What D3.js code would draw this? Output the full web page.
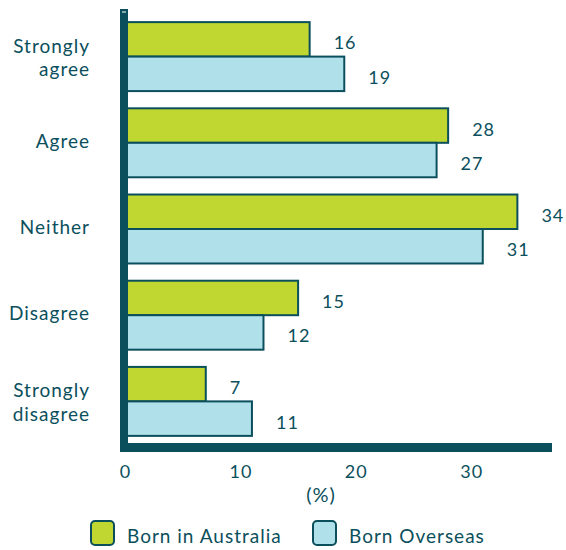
<!DOCTYPE html>
<html>
<head>
<meta charset="utf-8">
<script src="https://cdn.jsdelivr.net/npm/d3@7"></script>
<style>
  body { margin: 0; background: #fff; }
  text { font-family: "Lato", "Open Sans", sans-serif; fill: #0b4f5c; letter-spacing: 1px; }
</style>
</head>
<body>
<div class="container"></div>
<script>
// ----- DATA -----
const categories = ["Strongly agree", "Agree", "Neither", "Disagree", "Strongly disagree"];
const catLines = [["Strongly", "agree"], ["Agree"], ["Neither"], ["Disagree"], ["Strongly", "disagree"]];
const seriesNames = ["Born in Australia", "Born Overseas"];
const bornAustralia = [16, 28, 34, 15, 7];
const bornOverseas = [19, 27, 31, 12, 11];
const xTicks = [0, 10, 20, 30];

const w = 566, h = 550;
const colors = ["#bfd730", "#b0e1eb"];
const dark = "#0b4f5c";

const svg = d3.select(".container").append("svg")
  .attr("width", w).attr("height", h);

// ----- SCALES -----
const xScale = d3.scaleLinear().domain([0, 37]).range([125, 552]);
const yScale = d3.scaleBand().domain(categories).range([13.5, 444.5])
  .paddingInner(0.2).paddingOuter(0.1);
const ySub = d3.scaleBand().domain(seriesNames).range([0, yScale.bandwidth()]);

const rows = categories.map((c, i) => ({ cat: c, lines: catLines[i], vals: [bornAustralia[i], bornOverseas[i]] }));

// ----- BARS -----
const groups = svg.selectAll("g.cat").data(rows).enter().append("g")
  .attr("class", "cat")
  .attr("transform", d => "translate(0," + yScale(d.cat) + ")");

groups.selectAll("rect").data(d => d.vals.map((v, j) => ({ v: v, s: seriesNames[j], j: j })))
  .enter().append("rect")
  .attr("x", xScale(0))
  .attr("y", d => ySub(d.s))
  .attr("width", d => xScale(d.v) - xScale(0))
  .attr("height", ySub.bandwidth())
  .attr("fill", d => colors[d.j])
  .attr("stroke", dark)
  .attr("stroke-width", 2);

groups.selectAll("text.val").data(d => d.vals.map((v, j) => ({ v: v, s: seriesNames[j] })))
  .enter().append("text")
  .attr("class", "val")
  .attr("x", d => xScale(d.v) + 24)
  .attr("y", d => ySub(d.s) + ySub.bandwidth() / 2 + 10)
  .style("font-size", "18px")
  .text(d => d.v);

// ----- CATEGORY LABELS -----
svg.selectAll("text.cat").data(rows).enter().append("text")
  .attr("class", "cat")
  .attr("text-anchor", "end")
  .attr("x", 90)
  .attr("y", d => yScale(d.cat) + yScale.bandwidth() / 2 + (d.lines.length > 1 ? -4 : 5))
  .style("font-size", "19px")
  .selectAll("tspan").data(d => d.lines).enter().append("tspan")
  .attr("x", 90)
  .attr("dy", (d, i) => i === 0 ? 0 : 23.5)
  .text(d => d);

// ----- AXES -----
const xAxis = d3.axisBottom(xScale).tickValues(xTicks).tickSize(0).tickPadding(18);
const gx = svg.append("g").attr("transform", "translate(0,447)").call(xAxis);
gx.select(".domain").remove();
gx.selectAll("text").style("font-size", "18px").attr("fill", dark)
  .style("font-family", "Lato, 'Open Sans', sans-serif");

svg.append("line").attr("x1", 120).attr("x2", 552).attr("y1", 447.5).attr("y2", 447.5)
  .attr("stroke", dark).attr("stroke-width", 9);
svg.append("line").attr("x1", 124).attr("x2", 124).attr("y1", 9).attr("y2", 452)
  .attr("stroke", dark).attr("stroke-width", 8);
svg.append("line").attr("x1", 122).attr("x2", 126).attr("y1", 12).attr("y2", 12)
  .attr("stroke", "#fff").attr("stroke-width", 1);

svg.append("text").attr("x", 321).attr("y", 502).attr("text-anchor", "middle")
  .style("font-size", "20px").text("(%)");

// ----- LEGEND -----
const legendX = [90, 312];
const legend = svg.append("g").attr("id", "legend");
seriesNames.forEach((s, i) => {
  legend.append("rect").attr("x", legendX[i] + 1).attr("y", 521).attr("width", 23).attr("height", 24)
    .attr("rx", 4).attr("fill", colors[i]).attr("stroke", dark).attr("stroke-width", 2);
  legend.append("text").attr("x", legendX[i] + 37).attr("y", 543)
    .style("font-size", "19px").text(s);
});
</script>
</body>
</html>
